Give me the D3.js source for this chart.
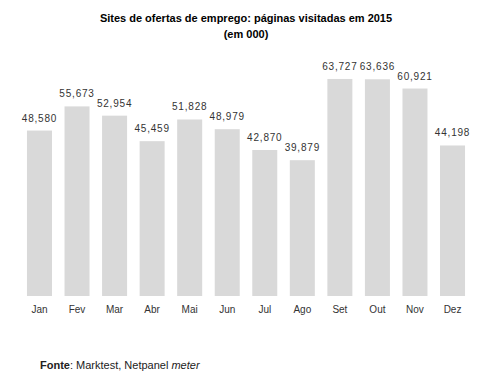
<!DOCTYPE html>
<html>
<head>
<meta charset="utf-8">
<script src="https://cdn.jsdelivr.net/npm/d3@7.9.0/dist/d3.min.js"></script>
<style>
  body { margin: 0; background: #fff; }
  svg { display: block; font-family: 'Liberation Sans', Arial, sans-serif; }
</style>
</head>
<body>
<svg id="chart" width="490" height="382"></svg>
<script>
// monthly page visits (thousands)
const months = ['Jan', 'Fev', 'Mar', 'Abr', 'Mai', 'Jun', 'Jul', 'Ago', 'Set', 'Out', 'Nov', 'Dez'];
const visits = [48580, 55673, 52954, 45459, 51828, 48979, 42870, 39879, 63727, 63636, 60921, 44198];

const data = months.map((m, i) => ({ month: m, value: visits[i] }));

const svg = d3.select('#chart');

const x = d3.scaleBand()
  .domain(months)
  .range([20.7, 471.3])
  .paddingInner(0.334)
  .paddingOuter(0.167);

const y = d3.scaleLinear()
  .domain([0, 70000])
  .range([296, 57.6]);

const fmt = d3.format(',');

// title
svg.append('text')
  .attr('x', 246).attr('y', 22)
  .attr('text-anchor', 'middle')
  .attr('font-size', 11).attr('font-weight', 'bold')
  .attr('fill', '#000')
  .text('Sites de ofertas de emprego: páginas visitadas em 2015');
svg.append('text')
  .attr('x', 246).attr('y', 38)
  .attr('text-anchor', 'middle')
  .attr('font-size', 11).attr('font-weight', 'bold')
  .attr('fill', '#000')
  .text('(em 000)');

// bars
svg.selectAll('rect.bar')
  .data(data)
  .join('rect')
  .attr('class', 'bar')
  .attr('x', d => x(d.month))
  .attr('y', d => y(d.value))
  .attr('width', x.bandwidth())
  .attr('height', d => y(0) - y(d.value))
  .attr('fill', '#d9d9d9');

// value labels
svg.selectAll('text.val')
  .data(data)
  .join('text')
  .attr('class', 'val')
  .attr('x', d => x(d.month) + x.bandwidth() / 2)
  .attr('y', d => y(d.value) - 9)
  .attr('text-anchor', 'middle')
  .attr('font-size', 10)
  .attr('letter-spacing', 0.8)
  .attr('fill', '#333')
  .text(d => fmt(d.value));

// month axis
const xAxis = svg.append('g')
  .attr('transform', `translate(0,${y(0)})`)
  .call(d3.axisBottom(x).tickSize(0).tickPadding(10));
xAxis.select('.domain').remove();
xAxis.selectAll('text')
  .attr('font-size', 10)
  .attr('font-family', "'Liberation Sans', Arial, sans-serif")
  .attr('fill', '#333');

// source note
const src = svg.append('text')
  .attr('x', 40).attr('y', 369)
  .attr('font-size', 11)
  .attr('fill', '#222');
src.append('tspan').attr('font-weight', 'bold').text('Fonte');
src.append('tspan').text(': Marktest, Netpanel ');
src.append('tspan').attr('font-style', 'italic').text('meter');
</script>
</body>
</html>
